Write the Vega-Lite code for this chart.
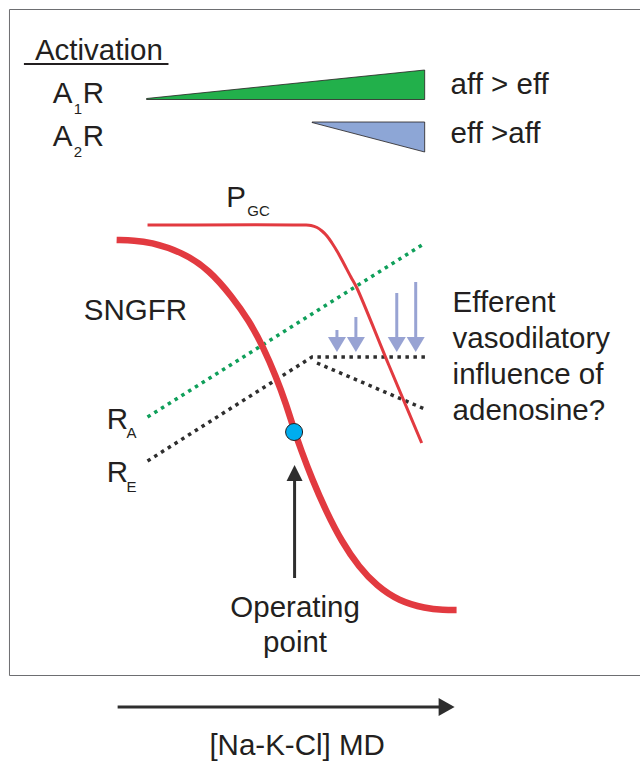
{
  "$schema": "https://vega.github.io/schema/vega-lite/v6.json",
  "width": 642,
  "height": 762,
  "autosize": {"type": "fit", "contains": "padding"},
  "padding": 0,
  "background": "white",
  "config": {"view": {"stroke": null}},
  "datasets": {
    "border": [
      {"x": 642, "y": 9.5, "o": 0},
      {"x": 9.5, "y": 9.5, "o": 1},
      {"x": 9.5, "y": 675.5, "o": 2},
      {"x": 642, "y": 675.5, "o": 3}
    ],
    "underline": [{"x": 24, "x2": 169, "y": 64}],
    "tri": [
      {"x": 147, "y": 98.5, "y2": 99.5, "g": "A1"},
      {"x": 426, "y": 70, "y2": 99.5, "g": "A1"},
      {"x": 313, "y": 122, "y2": 122.5, "g": "A2"},
      {"x": 426, "y": 122, "y2": 152, "g": "A2"}
    ],
    "pgc": [
      {"x": 148, "y": 225}, {"x": 305, "y": 225}, {"x": 312, "y": 225.5},
      {"x": 318, "y": 227.5}, {"x": 323, "y": 231}, {"x": 328, "y": 236},
      {"x": 333, "y": 243}, {"x": 338, "y": 251}, {"x": 343, "y": 260},
      {"x": 352, "y": 277}, {"x": 358, "y": 288}, {"x": 390, "y": 365},
      {"x": 423, "y": 443}
    ],
    "sngfr": [
      {"x": 117, "y": 240}, {"x": 135, "y": 240.5}, {"x": 150, "y": 242},
      {"x": 183, "y": 252}, {"x": 210, "y": 270}, {"x": 233, "y": 297},
      {"x": 250, "y": 321}, {"x": 264, "y": 347}, {"x": 277, "y": 377},
      {"x": 287, "y": 404}, {"x": 295, "y": 430}, {"x": 302, "y": 450},
      {"x": 313, "y": 479}, {"x": 327, "y": 511}, {"x": 343, "y": 542},
      {"x": 360, "y": 567}, {"x": 378, "y": 586}, {"x": 400, "y": 601},
      {"x": 427, "y": 608.5}, {"x": 445, "y": 610}, {"x": 458, "y": 610}
    ],
    "ra": [{"x": 148, "y": 417}, {"x": 425, "y": 244}],
    "re": [
      {"x": 148, "y": 461, "s": "a"}, {"x": 313, "y": 357, "s": "a"},
      {"x": 427, "y": 357, "s": "a"},
      {"x": 318, "y": 363, "s": "b"}, {"x": 426, "y": 409, "s": "b"}
    ],
    "barrows": [
      {"x": 338, "y": 330, "head": 344.5},
      {"x": 357, "y": 317, "head": 344.5},
      {"x": 398, "y": 293, "head": 344.5},
      {"x": 417, "y": 282, "head": 344.5}
    ],
    "oparrow": [{"x": 295.5, "y": 578, "head": 473}],
    "xarrow": [{"x": 118, "x2": 448, "y": 707}],
    "dot": [{"x": 295, "y": 432}],
    "txtL": [
      {"x": 35, "y": 60, "t": "Activation"},
      {"x": 53, "y": 103, "t": "A"},
      {"x": 83, "y": 103, "t": "R"},
      {"x": 53, "y": 146, "t": "A"},
      {"x": 83, "y": 146, "t": "R"},
      {"x": 452, "y": 94, "t": "aff > eff"},
      {"x": 452, "y": 143, "t": "eff >aff"},
      {"x": 227, "y": 207, "t": "P"},
      {"x": 84, "y": 320, "t": "SNGFR"},
      {"x": 107, "y": 429, "t": "R"},
      {"x": 107, "y": 482, "t": "R"},
      {"x": 454, "y": 312, "t": "Efferent"},
      {"x": 454, "y": 348, "t": "vasodilatory"},
      {"x": 454, "y": 384, "t": "influence of"},
      {"x": 454, "y": 420, "t": "adenosine?"}
    ],
    "txtC": [
      {"x": 296, "y": 617, "t": "Operating"},
      {"x": 296, "y": 652, "t": "point"},
      {"x": 298, "y": 755, "t": "[Na-K-Cl] MD"}
    ],
    "sub": [
      {"x": 74, "y": 114, "t": "1"},
      {"x": 74, "y": 157, "t": "2"},
      {"x": 248, "y": 216, "t": "GC"},
      {"x": 127, "y": 438, "t": "A"},
      {"x": 127, "y": 492, "t": "E"}
    ]
  },
  "encoding": {
    "x": {"field": "x", "type": "quantitative", "scale": {"domain": [0, 642], "nice": false, "zero": false}, "axis": null},
    "y": {"field": "y", "type": "quantitative", "scale": {"domain": [0, 762], "nice": false, "zero": false, "reverse": true}, "axis": null}
  },
  "layer": [
    {
      "data": {"name": "border"},
      "mark": {"type": "line", "stroke": "#6d6e71", "strokeWidth": 1},
      "encoding": {"order": {"field": "o", "type": "quantitative"}}
    },
    {
      "data": {"name": "underline"},
      "mark": {"type": "rule", "stroke": "#231f20", "strokeWidth": 2},
      "encoding": {"x2": {"field": "x2"}}
    },
    {
      "data": {"name": "tri"},
      "transform": [{"filter": "datum.g == 'A1'"}],
      "mark": {"type": "area", "fill": "#22b04b", "stroke": "#231f20", "strokeWidth": 0.8, "opacity": 1},
      "encoding": {"y2": {"field": "y2"}}
    },
    {
      "data": {"name": "tri"},
      "transform": [{"filter": "datum.g == 'A2'"}],
      "mark": {"type": "area", "fill": "#8da6d6", "stroke": "#231f20", "strokeWidth": 0.8, "opacity": 1},
      "encoding": {"y2": {"field": "y2"}}
    },
    {
      "data": {"name": "ra"},
      "mark": {"type": "line", "stroke": "#0f9f5a", "strokeWidth": 3.5, "strokeDash": [3.5, 4.5]},
      "encoding": {}
    },
    {
      "data": {"name": "re"},
      "mark": {"type": "line", "stroke": "#2e2e2e", "strokeWidth": 3.5, "strokeDash": [3.5, 4.5]},
      "encoding": {"detail": {"field": "s", "type": "nominal"}}
    },
    {
      "data": {"name": "pgc"},
      "mark": {"type": "line", "stroke": "#e23a40", "strokeWidth": 3, "interpolate": "catmull-rom"},
      "encoding": {}
    },
    {
      "data": {"name": "sngfr"},
      "mark": {"type": "line", "stroke": "#e23a40", "strokeWidth": 6.5, "interpolate": "basis"},
      "encoding": {}
    },
    {
      "data": {"name": "barrows"},
      "mark": {"type": "rule", "stroke": "#98a3d3", "strokeWidth": 3},
      "encoding": {"y2": {"field": "head"}}
    },
    {
      "data": {"name": "barrows"},
      "mark": {"type": "point", "shape": "M-1,-0.83L1,-0.83L0,0.83Z", "size": 324, "filled": true, "fill": "#98a3d3", "opacity": 1, "strokeWidth": 0},
      "encoding": {
        "y": {"field": "head", "type": "quantitative", "scale": {"domain": [0, 762], "nice": false, "zero": false, "reverse": true}, "axis": null}
      }
    },
    {
      "data": {"name": "oparrow"},
      "mark": {"type": "rule", "stroke": "#2e2e2e", "strokeWidth": 3},
      "encoding": {"y2": {"field": "head"}}
    },
    {
      "data": {"name": "oparrow"},
      "mark": {"type": "point", "shape": "M0,-1L1,1L-1,1Z", "size": 256, "filled": true, "fill": "#2e2e2e", "opacity": 1, "strokeWidth": 0},
      "encoding": {
        "y": {"field": "head", "type": "quantitative", "scale": {"domain": [0, 762], "nice": false, "zero": false, "reverse": true}, "axis": null}
      }
    },
    {
      "data": {"name": "xarrow"},
      "mark": {"type": "rule", "stroke": "#2e2e2e", "strokeWidth": 3},
      "encoding": {"x2": {"field": "x2"}}
    },
    {
      "data": {"name": "xarrow"},
      "mark": {"type": "point", "shape": "M-0.89,-1L0.89,0L-0.89,1Z", "size": 324, "filled": true, "fill": "#2e2e2e", "opacity": 1, "strokeWidth": 0},
      "encoding": {
        "x": {"field": "x2", "type": "quantitative", "scale": {"domain": [0, 642], "nice": false, "zero": false}, "axis": null}
      }
    },
    {
      "data": {"name": "dot"},
      "mark": {"type": "point", "shape": "circle", "size": 289, "filled": true, "fill": "#00adee", "stroke": "#231f20", "strokeWidth": 1, "opacity": 1},
      "encoding": {}
    },
    {
      "data": {"name": "txtL"},
      "mark": {"type": "text", "font": "Liberation Sans", "fontSize": 29.5, "align": "left", "baseline": "alphabetic", "fill": "#231f20"},
      "encoding": {"text": {"field": "t"}}
    },
    {
      "data": {"name": "txtC"},
      "mark": {"type": "text", "font": "Liberation Sans", "fontSize": 29.5, "align": "center", "baseline": "alphabetic", "fill": "#231f20"},
      "encoding": {"text": {"field": "t"}}
    },
    {
      "data": {"name": "sub"},
      "mark": {"type": "text", "font": "Liberation Sans", "fontSize": 15, "align": "left", "baseline": "alphabetic", "fill": "#231f20"},
      "encoding": {"text": {"field": "t"}}
    }
  ]
}
